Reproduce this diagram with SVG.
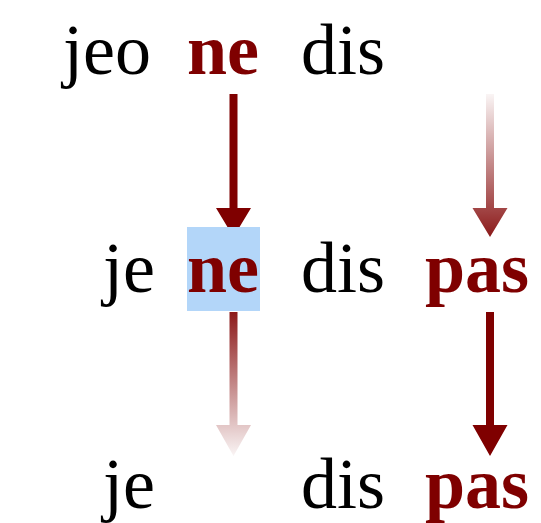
<svg xmlns="http://www.w3.org/2000/svg" width="541" height="523" viewBox="0 0 541 523">
  <style>
    .w { font-family: "Liberation Serif", "Times New Roman", serif; font-size: 72px; fill: #000000; }
    .neg { font-weight: bold; fill: #7f0000; }
    .hl { fill: #b3d6f9; }
    .solid { fill: #7f0000; }
  </style>
  <defs>
    <linearGradient id="fadeIn" gradientUnits="userSpaceOnUse" x1="0" y1="94" x2="0" y2="237">
      <stop offset="0" stop-color="#7f0000" stop-opacity="0.04"/>
      <stop offset="1" stop-color="#7f0000" stop-opacity="0.9"/>
    </linearGradient>
    <linearGradient id="fadeOut" gradientUnits="userSpaceOnUse" x1="0" y1="312" x2="0" y2="456">
      <stop offset="0" stop-color="#7f0000" stop-opacity="0.9"/>
      <stop offset="1" stop-color="#7f0000" stop-opacity="0.04"/>
    </linearGradient>
  </defs>
  <rect width="541" height="523" fill="#ffffff"/>

  <g id="connectors">
    <path class="solid" d="M229.5,94 H237.5 V208 H251 L233.5,237 L216,208 H229.5 Z"/>
    <path fill="url(#fadeIn)" d="M486,94 H494 V208 H507.5 L490,237 L472.5,208 H486 Z"/>
    <path fill="url(#fadeOut)" d="M229.5,312 H237.5 V425 H251 L233.5,456 L216,425 H229.5 Z"/>
    <path class="solid" d="M486,312 H494 V425 H507.5 L490,456 L472.5,425 H486 Z"/>
  </g>

  <g id="r1-jeo"><text class="w" x="63" y="74">jeo</text></g>
  <g id="r1-ne"><text class="w neg" x="187" y="74">ne</text></g>
  <g id="r1-dis"><text class="w" x="301" y="74">dis</text></g>

  <g id="r2-je"><text class="w" x="103" y="292">je</text></g>
  <g id="r2-ne">
    <rect class="hl" x="187" y="227" width="73" height="84"/>
    <text class="w neg" x="187" y="292">ne</text>
  </g>
  <g id="r2-dis"><text class="w" x="301" y="292">dis</text></g>
  <g id="r2-pas"><text class="w neg" x="425" y="292">pas</text></g>

  <g id="r3-je"><text class="w" x="103" y="508">je</text></g>
  <g id="r3-dis"><text class="w" x="301" y="508">dis</text></g>
  <g id="r3-pas"><text class="w neg" x="425" y="508">pas</text></g>
</svg>
